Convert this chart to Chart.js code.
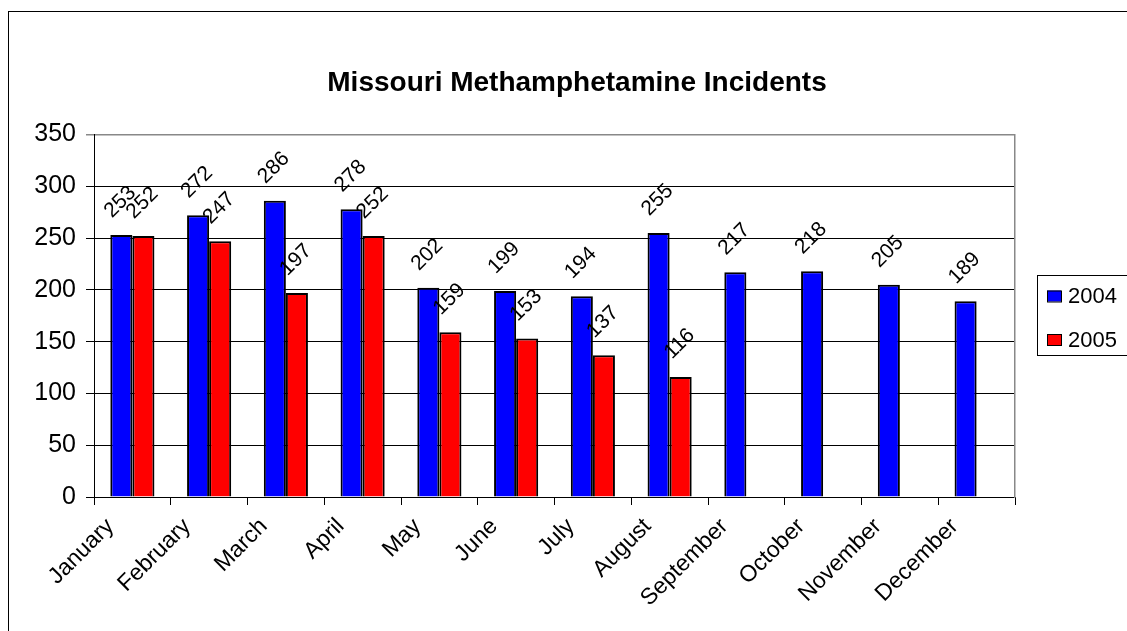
<!DOCTYPE html>
<html>
<head>
<meta charset="utf-8">
<title>Missouri Methamphetamine Incidents</title>
<script src="https://cdn.jsdelivr.net/npm/chart.js@4/dist/chart.umd.min.js"></script>
<style>
  html, body { margin: 0; padding: 0; background: #fff; overflow: hidden; }
  #wrap { position: absolute; left: 0; top: 0; width: 1127px; height: 631px; }
</style>
</head>
<body>
<div id="wrap"><canvas id="methChart" width="1127" height="631"></canvas></div>
<script>
// chart data
const months = ['January', 'February', 'March', 'April', 'May', 'June', 'July', 'August', 'September', 'October', 'November', 'December'];
const incidents2004 = [253, 272, 286, 278, 202, 199, 194, 255, 217, 218, 205, 189];
const incidents2005 = [252, 247, 197, 252, 159, 153, 137, 116, null, null, null, null];
const seriesNames = ['2004', '2005'];
const yTicks = [0, 50, 100, 150, 200, 250, 300, 350];

const FONT = "'Liberation Sans', Arial, sans-serif";

// outer frame + white background
const framePlugin = {
  id: 'frame',
  beforeDraw(chart) {
    const ctx = chart.ctx;
    ctx.save();
    ctx.fillStyle = '#fff';
    ctx.fillRect(0, 0, chart.width, chart.height);
    ctx.strokeStyle = '#000';
    ctx.lineWidth = 1;
    ctx.strokeRect(8.5, 11.5, 1200, 700);
    ctx.restore();
  }
};

// rotated value labels above each bar
const valueLabels = {
  id: 'valueLabels',
  afterDatasetsDraw(chart) {
    const ctx = chart.ctx;
    ctx.save();
    ctx.font = '21px ' + FONT;
    ctx.fillStyle = '#000';
    ctx.textAlign = 'center';
    ctx.textBaseline = 'middle';
    chart.data.datasets.forEach((ds, i) => {
      chart.getDatasetMeta(i).data.forEach((bar, j) => {
        const v = ds.data[j];
        if (v == null) return;
        ctx.save();
        ctx.translate(bar.x - 1, bar.y - 33);
        ctx.rotate(-Math.PI / 4);
        ctx.fillText(String(v), 0, 0);
        ctx.restore();
      });
    });
    ctx.restore();
  }
};

// legend box on the right
const sideLegend = {
  id: 'sideLegend',
  afterDraw(chart) {
    const ctx = chart.ctx;
    ctx.save();
    ctx.strokeStyle = '#000';
    ctx.lineWidth = 1;
    ctx.strokeRect(1037.5, 275.5, 120, 80);
    ctx.font = '22px ' + FONT;
    ctx.textBaseline = 'middle';
    ctx.textAlign = 'left';
    chart.data.datasets.forEach((ds, i) => {
      const cy = 296 + i * 43.5;
      ctx.fillStyle = ds.backgroundColor;
      ctx.fillRect(1047, cy - 5.5, 14, 11);
      ctx.strokeRect(1047.5, cy - 5, 14, 11);
      ctx.fillStyle = '#000';
      ctx.fillText(ds.label, 1068, cy + 1);
    });
    ctx.restore();
  }
};

const ctx = document.getElementById('methChart').getContext('2d');
new Chart(ctx, {
  type: 'bar',
  data: {
    labels: months,
    datasets: [
      {
        label: seriesNames[0],
        data: incidents2004,
        backgroundColor: '#0000FF',
        borderColor: '#000',
        borderWidth: 2,
        borderSkipped: 'bottom'
      },
      {
        label: seriesNames[1],
        data: incidents2005,
        backgroundColor: '#FF0000',
        borderColor: '#000',
        borderWidth: 2,
        borderSkipped: 'bottom'
      }
    ]
  },
  options: {
    responsive: false,
    animation: false,
    layout: { padding: { left: 27, right: 0, top: 0, bottom: 0 } },
    datasets: {
      bar: { barPercentage: 1, categoryPercentage: 0.575 }
    },
    plugins: {
      legend: { display: false },
      tooltip: { enabled: false },
      title: {
        display: true,
        text: 'Missouri Methamphetamine Incidents',
        color: '#000',
        font: { family: FONT, size: 28, weight: 'bold' },
        padding: { top: 66, bottom: 35 }
      }
    },
    scales: {
      x: {
        grid: {
          display: true,
          drawOnChartArea: false,
          drawTicks: true,
          tickLength: 8,
          color: '#000',
          offset: true
        },
        border: { display: true, color: '#000', width: 1 },
        ticks: {
          color: '#000',
          font: { family: FONT, size: 23 },
          autoSkip: false,
          maxRotation: 45,
          minRotation: 45,
          labelOffset: -22,
          padding: 8
        },
        afterFit(scale) { scale.height = 134; }
      },
      y: {
        min: 0,
        max: 350,
        afterBuildTicks(scale) { scale.ticks = yTicks.map(v => ({ value: v })); },
        grid: {
          color: (c) => (c.tick && c.tick.value === 350 ? '#888' : '#000'),
          lineWidth: (c) => (c.tick && c.tick.value === 350 ? 1.5 : 1),
          tickLength: 8
        },
        border: { display: true, color: '#000', width: 1 },
        ticks: {
          color: '#000',
          font: { family: FONT, size: 25 },
          padding: 10
        },
        afterFit(scale) { scale.width = 67; }
      },
      y2: {
        position: 'right',
        min: 0,
        max: 350,
        grid: { display: false, drawTicks: false },
        border: { display: true, color: '#888', width: 1.5 },
        ticks: { display: false },
        afterFit(scale) { scale.width = 112; }
      }
    }
  },
  plugins: [framePlugin, valueLabels, sideLegend]
});
</script>
</body>
</html>
